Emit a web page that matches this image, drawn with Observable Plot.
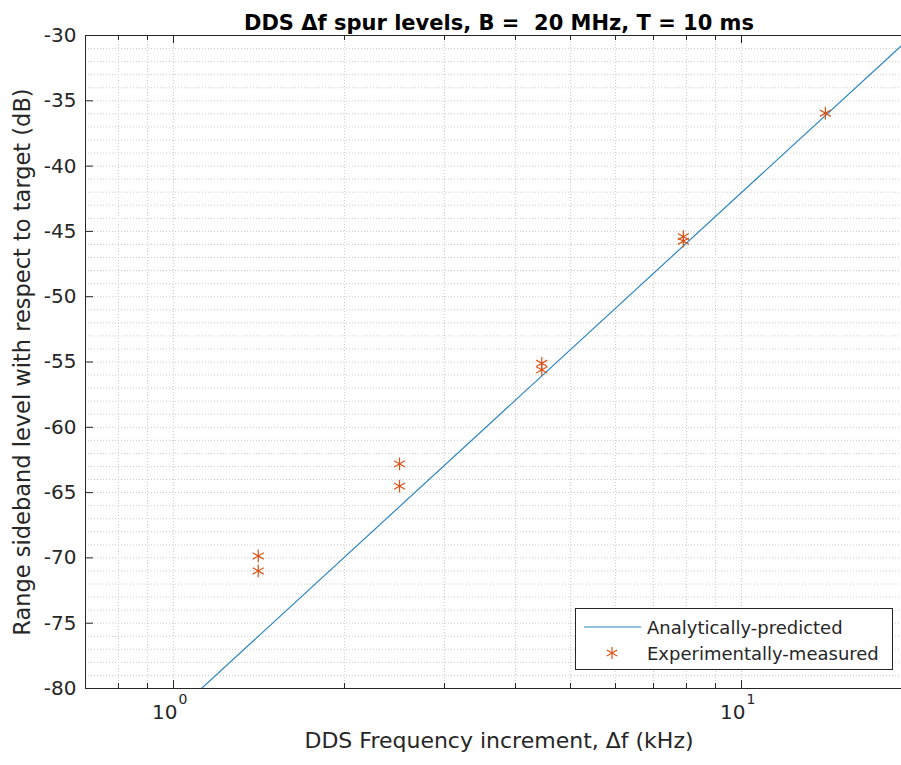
<!DOCTYPE html>
<html>
<head>
<meta charset="utf-8">
<script src="https://cdn.jsdelivr.net/npm/d3@7"></script>
<script src="https://cdn.jsdelivr.net/npm/@observablehq/plot@0.6"></script>
<style>
  html, body { margin: 0; padding: 0; background: #fff; overflow: hidden; width: 901px; height: 765px; }
  #wrap { position: relative; width: 913px; height: 765px; }
  #legend {
    position: absolute; left: 575px; top: 608px; width: 316px; height: 60px;
    border: 1px solid #262626; background: #fff;
    font-family: "DejaVu Sans", sans-serif; font-size: 18px; color: #262626;
  }
  .row { position: absolute; left: 0; height: 26px; display: flex; align-items: center; }
  .row svg { display: block; }
  .row span { position: absolute; left: 71px; white-space: nowrap; }
</style>
</head>
<body>
<div id="wrap">
  <div id="chart"></div>
  <div id="legend">
    <div class="row" style="top:5px"><svg width="70" height="26"><line x1="8" x2="65" y1="13" y2="13" stroke="#2f86c0" stroke-width="1.2"/></svg><span id="lg1"></span></div>
    <div class="row" style="top:31px"><svg width="70" height="26"><g transform="translate(36,13)" stroke="#D95319" stroke-width="1.2"><line x1="0" y1="-6" x2="0" y2="6"/><line x1="-5.2" y1="-3" x2="5.2" y2="3"/><line x1="-5.2" y1="3" x2="5.2" y2="-3"/></g></svg><span id="lg2"></span></div>
  </div>
</div>
<script>
// ---- data ----
const titleText = "DDS \u0394f spur levels, B =  20 MHz, T = 10 ms";
const xLabelText = "DDS Frequency increment, \u0394f (kHz)";
const yLabelText = "Range sideband level with respect to target (dB)";
const seriesNames = ["Analytically-predicted", "Experimentally-measured"];

const xDomain = [0.7, 20];
const yDomain = [-80, -30];
const yTicks = [-80, -75, -70, -65, -60, -55, -50, -45, -40, -35, -30];
const yTickLabels = ["-80", "-75", "-70", "-65", "-60", "-55", "-50", "-45", "-40", "-35", "-30"];
const yGrid = [-79,-78,-77,-76,-75,-74,-73,-72,-71,-70,-69,-68,-67,-66,-65,-64,-63,-62,-61,-60,-59,-58,-57,-56,-55,-54,-53,-52,-51,-50,-49,-48,-47,-46,-45,-44,-43,-42,-41,-40,-39,-38,-37,-36,-35,-34,-33,-32,-31];
const xMajorTicks = [1, 10];
const xTickBase = ["10", "10"];
const xTickExp = ["0", "1"];
const xMinorTicks = [0.8, 0.9, 2, 3, 4, 5, 6, 7, 8, 9];

const predictedX = [1.12, 20];
const predictedY = [-80, -30];

const measuredX = [1.41, 1.41, 2.5, 2.5, 4.45, 4.45, 7.9, 7.9, 14.05];
const measuredY = [-69.85, -71.0, -62.8, -64.5, -55.1, -55.6, -45.4, -45.75, -35.95];

// ---- build ----
const predicted = predictedX.map((x, i) => ({x, y: predictedY[i]}));
const measured = measuredX.map((x, i) => ({x, y: measuredY[i]}));
const xMajor = xMajorTicks.map((x, i) => ({x, base: xTickBase[i], exp: xTickExp[i]}));

const W = 913, H = 765, mL = 85, mR = 1, mT = 35, mB = 77;
const innerW = W - mL - mR, innerH = H - mT - mB;
const ink = "#262626";
const gridStyle = {stroke: "#cdcdcd", strokeDasharray: "1,2", strokeWidth: 1};

const chart = Plot.plot({
  width: W, height: H,
  marginLeft: mL, marginRight: mR, marginTop: mT, marginBottom: mB,
  style: {fontFamily: "DejaVu Sans, sans-serif", fontSize: "18px", color: ink, background: "#fff"},
  x: {type: "log", domain: xDomain, axis: null},
  y: {domain: yDomain, axis: null},
  marks: [
    // grid
    Plot.ruleY(yGrid, {y: d => d, ...gridStyle}),
    Plot.ruleX(xMinorTicks.concat(xMajorTicks), {x: d => d, ...gridStyle}),
    // y tick labels
    Plot.text(yTicks, {y: d => d, text: (d, i) => yTickLabels[i], frameAnchor: "left", textAnchor: "end", dx: -9, fill: ink, fontSize: 20}),
    // x tick labels (10^n)
    Plot.text(xMajor, {x: "x", text: "base", frameAnchor: "bottom", dy: 30, dx: 4, textAnchor: "end", fill: ink, fontSize: 20}),
    Plot.text(xMajor, {x: "x", text: "exp", frameAnchor: "bottom", dy: 15, dx: 5, textAnchor: "start", fill: ink, fontSize: 14}),
    // data
    Plot.line(predicted, {x: "x", y: "y", stroke: "#2f86c0", strokeWidth: 1.2, clip: true}),
    Plot.dot(measured, {x: "x", y: "y", symbol: "asterisk", r: 6, stroke: "#D95319", strokeWidth: 1.2}),
    // ticks (inward)
    Plot.tickY(yTicks, {y: d => d, insetRight: innerW - 8, stroke: ink}),
    Plot.tickX(xMajorTicks, {x: d => d, insetTop: innerH - 8, stroke: ink}),
    Plot.tickX(xMajorTicks, {x: d => d, insetBottom: innerH - 8, stroke: ink}),
    Plot.tickX(xMinorTicks, {x: d => d, insetTop: innerH - 5, stroke: ink}),
    Plot.tickX(xMinorTicks, {x: d => d, insetBottom: innerH - 5, stroke: ink}),
    Plot.frame({stroke: ink, strokeWidth: 1}),
    // labels
    Plot.text([titleText], {frameAnchor: "top", dy: -20, fontWeight: "bold", fontSize: 21, fill: "#000"}),
    Plot.text([xLabelText], {frameAnchor: "bottom", dy: 59, fontSize: 22, fill: ink}),
    Plot.text([yLabelText], {frameAnchor: "left", dx: -63, rotate: -90, textAnchor: "middle", fontSize: 22.5, fill: ink})
  ]
});
document.getElementById("chart").appendChild(chart);
document.getElementById("lg1").textContent = seriesNames[0];
document.getElementById("lg2").textContent = seriesNames[1];
</script>
</body>
</html>
